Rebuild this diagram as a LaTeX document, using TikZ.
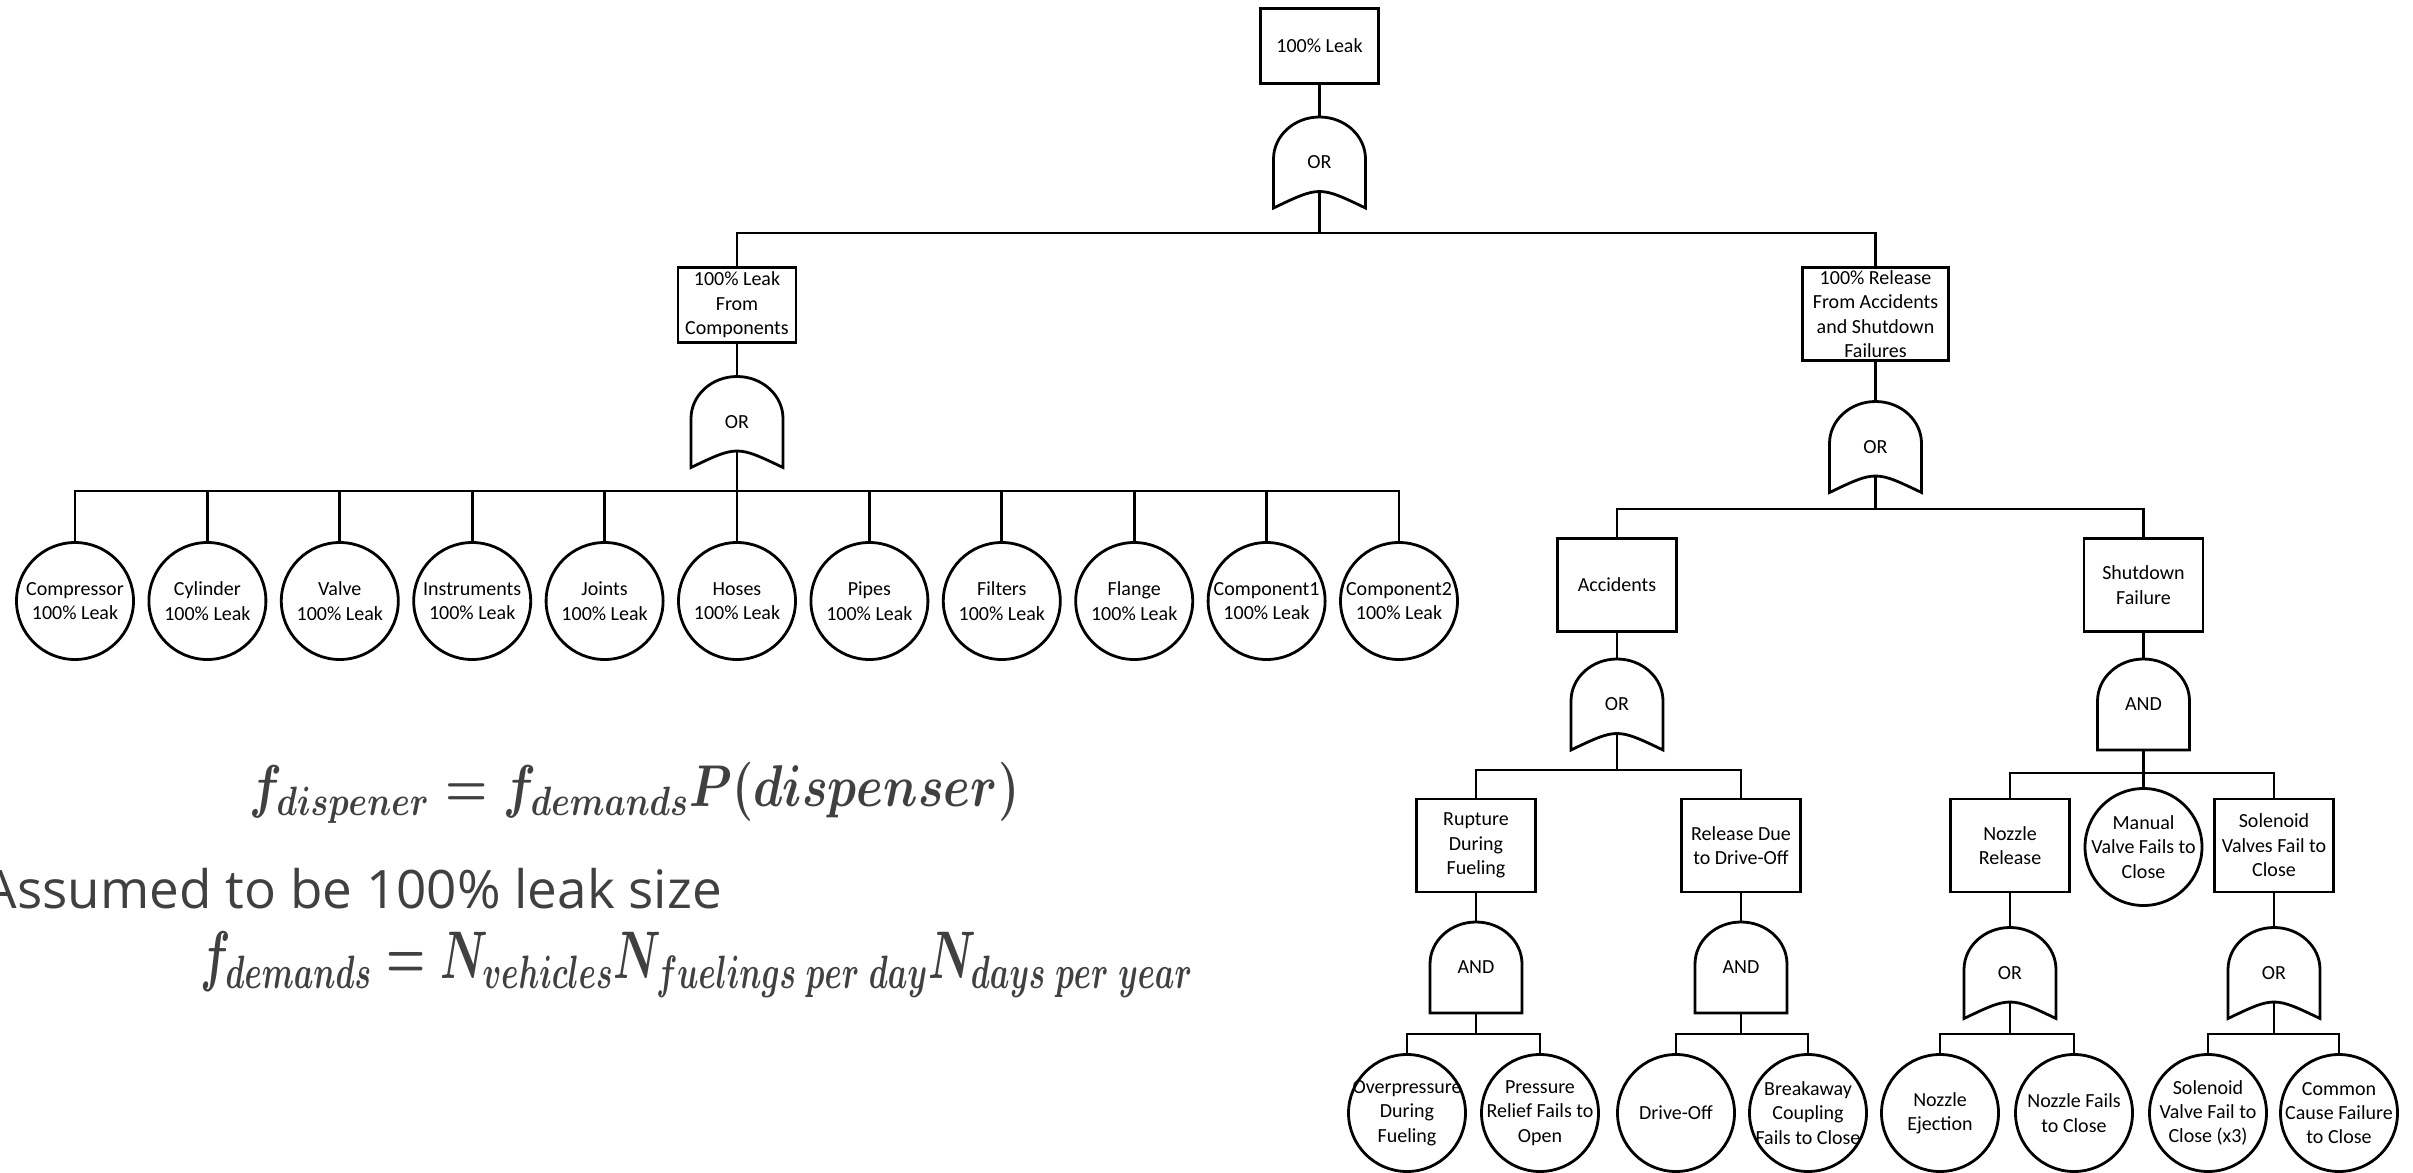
\documentclass[tikz,border=0pt]{standalone}
\usepackage{fontspec}
\usepackage{graphicx}
\setmainfont{Carlito}
\newfontfamily\notefont{Open Sans}
\definecolor{inkgrey}{HTML}{404040}
\begin{document}
\begin{tikzpicture}[x=1pt,y=-1pt,
  every node/.style={font=\fontsize{20}{24.4}\selectfont, text=black},
  evbox/.style={draw, rectangle, line width=2.8pt, fill=white, align=center,
    inner sep=1pt, minimum width=119pt, minimum height=93pt},
  basic/.style={draw, circle, line width=2.8pt, fill=white, minimum size=117pt, inner sep=0pt},
  lbl/.style={align=center, inner sep=0pt},
  wire/.style={line width=2.8pt},
  gateline/.style={line width=2.8pt, fill=white, draw},
  orgate/.pic={
    \path[gateline] (-46,45.5) -- (-46,-3.5)
      .. controls (-46,-26.7) and (-25.4,-45.5) .. (0,-45.5)
      .. controls (25.4,-45.5) and (46,-26.7) .. (46,-3.5)
      -- (46,45.5) .. controls (0,23.5) .. (-46,45.5) -- cycle;
    \node at (0,0) {OR};
    \coordinate (-in) at (0,-45.5);
    \coordinate (-out) at (0,29);
  },
  andgate/.pic={
    \path[gateline] (-46,45.5) -- (-46,-3.5)
      .. controls (-46,-26.7) and (-25.4,-45.5) .. (0,-45.5)
      .. controls (25.4,-45.5) and (46,-26.7) .. (46,-3.5)
      -- (46,45.5) -- cycle;
    \node at (0,0) {AND};
    \coordinate (-in) at (0,-45.5);
    \coordinate (-out) at (0,45.5);
  }
]
\fill[white] (0,0) rectangle (2413,1173);
\useasboundingbox (0,0) rectangle (2413,1173);

% bar levels of the tree
\coordinate (y0) at (0,233);
\coordinate (y1) at (0,491);
\coordinate (y2) at (0,509);
\coordinate (y3) at (0,770);
\coordinate (y4) at (0,773);
\coordinate (y5) at (0,1034);

% events
\node[evbox, minimum width=118pt, minimum height=75pt] (top) at (1319.5,46) {100\% Leak};
\node[evbox, minimum width=118pt, minimum height=75pt] (comp) at (737,305) {100\% Leak\\From\\Components};
\node[evbox, minimum width=146pt] (rel) at (1875.5,314) {100\% Release\\From Accidents\\and Shutdown\\Failures};
\node[evbox] (acc) at (1617,585) {Accidents};
\node[evbox] (shut) at (2143.5,585) {Shutdown\\Failure};
\node[evbox] (rupt) at (1476,845.5) {Rupture\\During\\Fueling};
\node[evbox] (drive) at (1741,845.5) {Release Due\\to Drive-Off};
\node[evbox] (nozz) at (2010,845.5) {Nozzle\\Release};
\node[basic, label={[lbl]center:Manual\\Valve Fails to\\Close}] (manual) at (2143.5,847) {};
\node[evbox] (solv) at (2274,845.5) {Solenoid\\Valves Fail to\\Close};

% gates
\pic (g0) at (1319.5,162.5) {orgate};
\pic (g1) at (737,422) {orgate};
\pic (g2) at (1875.5,447) {orgate};
\pic (g3) at (1617,704.5) {orgate};
\pic (g4) at (2143.5,704.5) {andgate};
\pic (g5) at (1476,967.5) {andgate};
\pic (g6) at (1741,967.5) {andgate};
\pic (g7) at (2010,973) {orgate};
\pic (g8) at (2274,973) {orgate};

% event to gate
\foreach \e/\g in {top/g0, comp/g1, rel/g2, acc/g3, shut/g4, rupt/g5, drive/g6, nozz/g7, solv/g8}
  \draw[wire] (\e.south) -- (\g-in);

% component leaks
\foreach \t [count=\i] in {Compressor,Cylinder,Valve,Instruments,Joints,Hoses,Pipes,Filters,Flange,Component1,Component2} {
  \node[basic, label={[lbl]center:\t\\100\% Leak}] (c\i) at ({75+132.4*(\i-1)},601) {};
  \draw[wire] (g1-out) -- (g1-out |- y1) -| (c\i.north);
}

% basic events of the lowest level
\node[basic, label={[lbl]center:Overpressure\\During\\Fueling}] (over) at (1407,1113) {};
\node[basic, label={[lbl]center:Pressure\\Relief Fails to\\Open}] (prv) at (1540,1113) {};
\node[basic, label={[lbl]center:Drive-Off}] (doff) at (1676,1113) {};
\node[basic, label={[lbl]center:Breakaway\\Coupling\\Fails to Close}] (brk) at (1808,1113) {};
\node[basic, label={[lbl]center:Nozzle\\Ejection}] (eject) at (1940,1113) {};
\node[basic, label={[lbl]center:Nozzle Fails\\to Close}] (nfail) at (2074,1113) {};
\node[basic, label={[lbl]center:Solenoid\\Valve Fail to\\Close (x3)}] (sv) at (2208,1113) {};
\node[basic, label={[lbl]center:Common\\Cause Failure\\to Close}] (ccf) at (2339,1113) {};

% gate to inputs
\foreach \g/\y/\c in {g0/y0/comp, g0/y0/rel, g2/y2/acc, g2/y2/shut,
    g3/y3/rupt, g3/y3/drive, g4/y4/nozz, g4/y4/manual, g4/y4/solv,
    g5/y5/over, g5/y5/prv, g6/y5/doff, g6/y5/brk,
    g7/y5/eject, g7/y5/nfail, g8/y5/sv, g8/y5/ccf}
  \draw[wire] (\g-out) -- (\g-out |- \y) -| (\c.north);

% frequency notes
\node[anchor=north west, inner sep=0pt, text=inkgrey] (eqa) at (249,762)
  {\resizebox*{770pt}{61pt}{\boldmath$f_{dispener} = f_{demands}P(dispenser)$}};
\node[anchor=base east, inner sep=0pt, text=inkgrey] (note) at (722,908)
  {\notefont\fontsize{53}{60}\selectfont Assumed to be 100\% leak size};
\node[anchor=north west, inner sep=0pt, text=inkgrey] (eqb) at (200,931)
  {\resizebox*{993pt}{66pt}{\boldmath$f_{demands} = N_{vehicles}N_{fuelings\ per\ day}N_{days\ per\ year}$}};
\end{tikzpicture}
\end{document}
